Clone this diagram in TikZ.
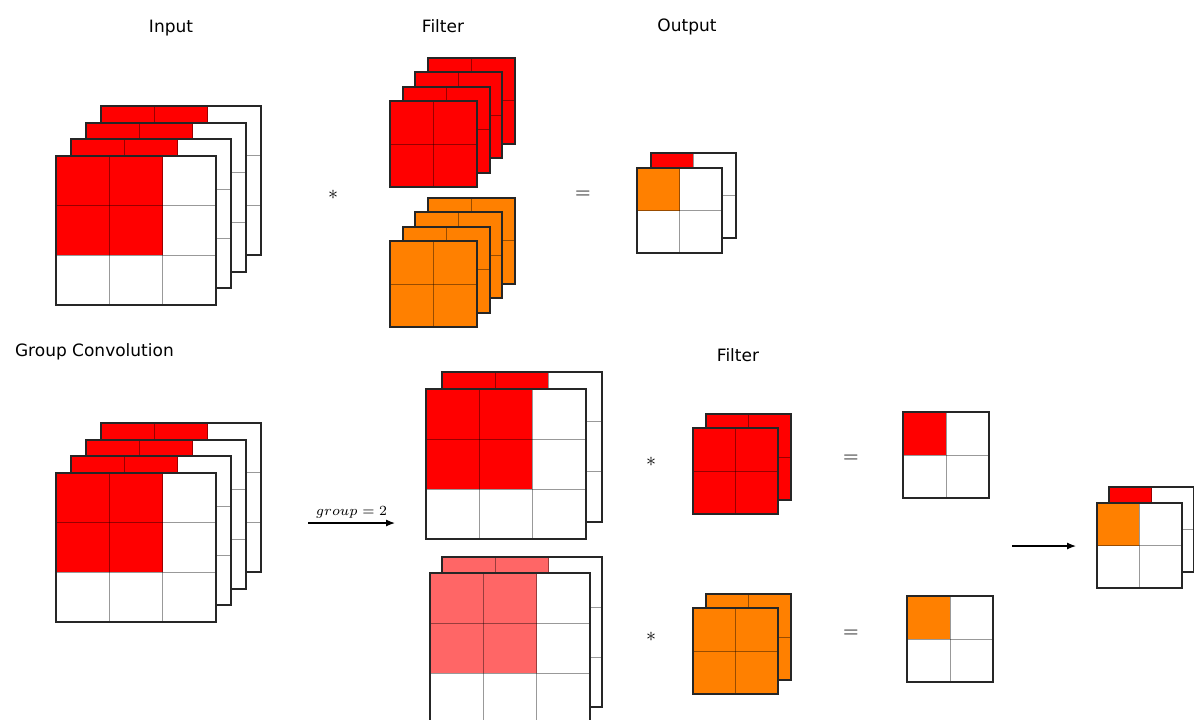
\documentclass[tikz,border=0pt]{standalone}
\usepackage{fontspec}
\setmainfont{DejaVu Sans}
\usetikzlibrary{arrows.meta, positioning, calc}
\definecolor{fmred}{RGB}{255, 0, 0}
\definecolor{fmorange}{RGB}{255, 128, 0}
\definecolor{fmpink}{RGB}{255, 102, 102}

% Una capa: x, y (esquina sup. izq.), columnas, filas, ancho y alto de celda, color, n (n x n celdas coloreadas)
\newcommand{\fmlayer}[8]{%
  \begin{scope}[shift={(#1,#2)}]
    \fill[white] (0,0) rectangle (#3*#5,#4*#6);
    \fill[#7] (0,0) rectangle (#8*#5,#8*#6);
    \pgfmathtruncatemacro\fmnc{#3-1}
    \pgfmathtruncatemacro\fmnr{#4-1}
    \foreach \i in {1,...,\fmnc} {\draw[mapgrid] (\i*#5,0) -- (\i*#5,#4*#6);}
    \foreach \j in {1,...,\fmnr} {\draw[mapgrid] (0,\j*#6) -- (#3*#5,\j*#6);}
    \draw[mapborder] (0,0) rectangle (#3*#5,#4*#6);
  \end{scope}}

\begin{document}
\begin{tikzpicture}[
    x=0.5pt, y=-0.5pt,
    mapborder/.style={draw=black!85, line width=1pt},
    mapgrid/.style={draw=black, opacity=0.4, line width=0.5pt},
    caption/.style={font=\fontsize{8.5}{10}\selectfont},
    operator/.style={font=\fontsize{10}{12}\selectfont},
    arrow/.style={-{Latex[length=4.5pt, width=3.5pt]}, line width=0.6pt}
]
\useasboundingbox (0,0) rectangle (1194,719);
\clip (0,0) rectangle (1194,719);

% Títulos
\node[caption] (tInput) at (171,28) {Input};
\node[caption] (tFilter) at (443,26) {Filter};
\node[caption] (tOutput) at (687,27) {Output};
\node[caption, anchor=west] (tGroup) at (8,352) {Group Convolution};
\node[caption] (tFilterB) at (738,355) {Filter};

% Convolución normal: entrada, filtros y salida
\foreach \k in {3,2,1,0} {\fmlayer{56+15*\k}{156-16.7*\k}{3}{3}{53.3}{49.7}{fmred}{2}}
\foreach \k in {3,2,1,0} {\fmlayer{390+12.5*\k}{101-14.5*\k}{2}{2}{43.5}{43}{fmred}{2}}
\foreach \k in {3,2,1,0} {\fmlayer{390+12.5*\k}{241-14.5*\k}{2}{2}{43.5}{43}{fmorange}{2}}
\fmlayer{650.7}{153.3}{2}{2}{42.5}{42.5}{fmred}{1}
\fmlayer{637.3}{168.3}{2}{2}{42.5}{42.5}{fmorange}{1}

\node[operator] (opA) at (333,195) {$*$};
\node[operator] (opB) at (583,195) {$=$};

% Convolución por grupos
\foreach \k in {3,2,1,0} {\fmlayer{56+15*\k}{473-16.7*\k}{3}{3}{53.3}{49.7}{fmred}{2}}

\fmlayer{441.7}{371.7}{3}{3}{53.3}{50}{fmred}{2}
\fmlayer{425.7}{389.3}{3}{3}{53.3}{50}{fmred}{2}
\fmlayer{442.3}{557.3}{3}{3}{53.3}{50}{fmpink}{2}
\fmlayer{430}{573.3}{3}{3}{53.3}{50}{fmpink}{2}

\fmlayer{706}{414.3}{2}{2}{42.5}{43}{fmred}{2}
\fmlayer{693.3}{428.3}{2}{2}{42.5}{43}{fmred}{2}
\fmlayer{706}{594.3}{2}{2}{42.5}{43}{fmorange}{2}
\fmlayer{693.3}{608.3}{2}{2}{42.5}{43}{fmorange}{2}

\fmlayer{903.3}{412.3}{2}{2}{43}{43}{fmred}{1}
\fmlayer{907}{596}{2}{2}{43}{43}{fmorange}{1}

\fmlayer{1109.3}{487.3}{2}{2}{42.5}{42.5}{fmred}{1}
\fmlayer{1096.7}{503.3}{2}{2}{42.5}{42.5}{fmorange}{1}

\node[operator] (opC) at (651,462) {$*$};
\node[operator] (opD) at (851,459) {$=$};
\node[operator] (opE) at (651,637) {$*$};
\node[operator] (opF) at (851,634) {$=$};

% Flechas
\coordinate (gStart) at (308,523);
\coordinate (gEnd) at (395,523);
\draw[arrow] (gStart) -- node[above=-1pt, font=\fontsize{7}{9}\selectfont] {$group = 2$} (gEnd);
\coordinate (fStart) at (1012,546);
\coordinate (fEnd) at (1076,546);
\draw[arrow] (fStart) -- (fEnd);

\end{tikzpicture}
\end{document}
